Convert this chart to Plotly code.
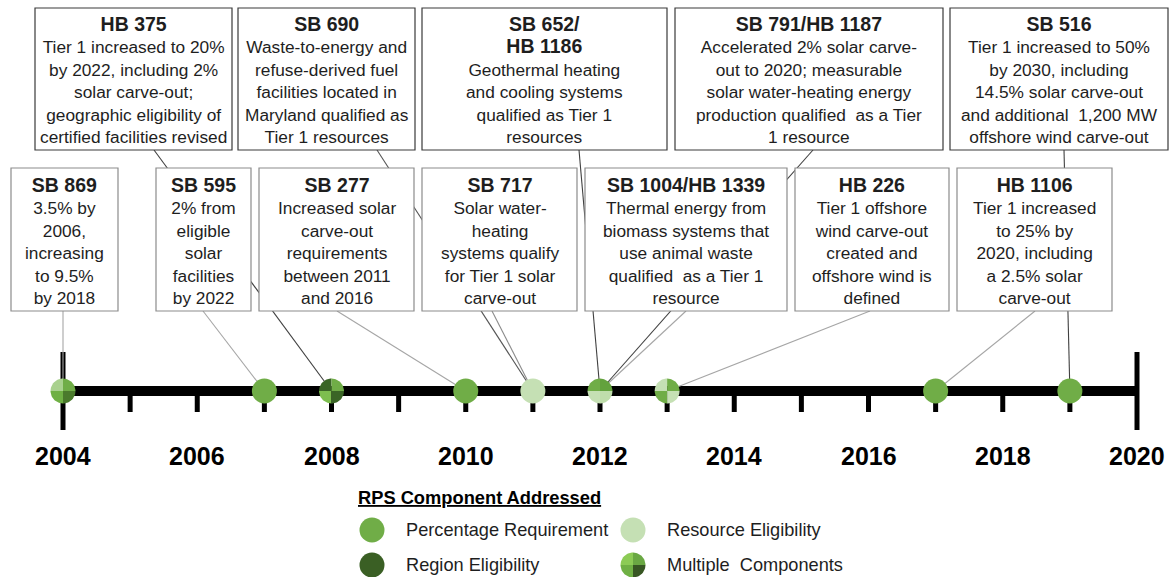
import numpy as np
import plotly.graph_objects as go

# ---------------- data ----------------
tick_years = list(range(2004, 2021))
label_years = list(range(2004, 2021, 2))
tick_labels = [str(y) for y in label_years]

event_years = [2004, 2007, 2008, 2010, 2011, 2012, 2013, 2017, 2019]
event_kinds = ["multi", "percent", "multi", "percent", "resource", "multi", "multi", "percent", "percent"]

bill_names = ["SB 869", "SB 595", "HB 375", "SB 277", "SB 690", "SB 717",
              "SB 652/HB 1186", "SB 1004/HB 1339", "SB 791/HB 1187", "HB 226", "HB 1106", "SB 516"]
bill_years = [2004, 2007, 2008, 2010, 2011, 2011, 2012, 2012, 2012, 2013, 2017, 2019]
bill_titles = ["SB 869", "SB 595", "HB 375", "SB 277", "SB 690", "SB 717",
               "SB 652/<br>HB 1186", "SB 1004/HB 1339", "SB 791/HB 1187", "HB 226", "HB 1106", "SB 516"]
bill_texts = [
    "3.5% by<br>2006,<br>increasing<br>to 9.5%<br>by 2018",
    "2% from<br>eligible<br>solar<br>facilities<br>by 2022",
    "Tier 1 increased to 20%<br>by 2022, including 2%<br>solar carve-out;<br>geographic eligibility of<br>certified facilities revised",
    "Increased solar<br>carve-out<br>requirements<br>between 2011<br>and 2016",
    "Waste-to-energy and<br>refuse-derived fuel<br>facilities located in<br>Maryland qualified as<br>Tier 1 resources",
    "Solar water-<br>heating<br>systems qualify<br>for Tier 1 solar<br>carve-out",
    "Geothermal heating<br>and cooling systems<br>qualified as Tier 1<br>resources",
    "Thermal energy from<br>biomass systems that<br>use animal waste<br>qualified  as a Tier 1<br>resource",
    "Accelerated 2% solar carve-<br>out to 2020; measurable<br>solar water-heating energy<br>production qualified  as a Tier<br>1 resource",
    "Tier 1 offshore<br>wind carve-out<br>created and<br>offshore wind is<br>defined",
    "Tier 1 increased<br>to 25% by<br>2020, including<br>a 2.5% solar<br>carve-out",
    "Tier 1 increased to 50%<br>by 2030, including<br>14.5% solar carve-out<br>and additional  1,200 MW<br>offshore wind carve-out",
]

legend_title = "RPS Component Addressed"
legend_labels = ["Percentage Requirement", "Resource Eligibility", "Region Eligibility", "Multiple  Components"]
legend_kinds = ["percent", "resource", "region", "multi"]

# ---------------- layout / style ----------------
W, H = 1175, 577
PX_START, PX_END = 63, 1137          # pixel x of first / last timeline year
PPY = (PX_END - PX_START) / (tick_years[-1] - tick_years[0])   # px per year
X_RANGE = [tick_years[0] - PX_START / PPY, tick_years[0] + (W - PX_START) / PPY]


def X(px):
    return tick_years[0] + (px - PX_START) / PPY


AXIS_Y = 391
MARK_R = 12.5
FONT = "Arial, Liberation Sans, sans-serif"
TXT = "#1e1e1e"

COLORS = {"percent": "#70AD47", "resource": "#C5E0B4", "region": "#3A5F24"}
# quadrant colors TL, TR, BL, BR
QUADS = {
    2004: ("#A9D18E", "#70AD47", "#6FB044", "#4A7A2C"),
    2008: ("#3A6526", "#70AD47", "#7DBE4F", "#3A6526"),
    2012: ("#70AD47", "#63A23D", "#C5E0B4", "#BFDDAB"),
    2013: ("#C5E0B4", "#70AD47", "#70AD47", "#C5E0B4"),
    "legend": ("#8CCB55", "#6AA843", "#6FB044", "#375623"),
}

BOX = {
    "HB 375": (35, 8, 232, 150),
    "SB 690": (238, 8, 415, 150),
    "SB 652/HB 1186": (422, 8, 667, 150),
    "SB 791/HB 1187": (675, 8, 943, 150),
    "SB 516": (950, 8, 1168, 150),
    "SB 869": (11, 168, 118, 311),
    "SB 595": (156, 168, 251, 311),
    "SB 277": (259, 168, 414, 311),
    "SB 717": (422, 168, 577, 311),
    "SB 1004/HB 1339": (585, 168, 787, 311),
    "HB 226": (795, 168, 949, 311),
    "HB 1106": (957, 168, 1112, 311),
}
LEADER = {
    "SB 869": (63, 311, "#A6A6A6"),
    "SB 595": (203, 311, "#A6A6A6"),
    "HB 375": (154, 150, "#404040"),
    "SB 277": (337, 311, "#A6A6A6"),
    "SB 690": (377, 150, "#555555"),
    "SB 717": (492, 311, "#8C8C8C"),
    "SB 652/HB 1186": (579, 150, "#404040"),
    "SB 1004/HB 1339": (686, 311, "#A6A6A6"),
    "SB 791/HB 1187": (813, 150, "#404040"),
    "HB 226": (870, 311, "#A6A6A6"),
    "HB 1106": (1035, 311, "#A6A6A6"),
    "SB 516": (1064, 150, "#404040"),
}

fig = go.Figure()


def add_pie(cx, cy, quads):
    # cx in data x, cy in pixel-y; quads TL, TR, BL, BR
    spans = {"TR": (0, 90), "TL": (90, 180), "BL": (180, 270), "BR": (270, 360)}
    for key, col in zip(["TL", "TR", "BL", "BR"], quads):
        a0, a1 = spans[key]
        t = np.radians(np.linspace(a0, a1, 20))
        xs = [cx] + list(cx + MARK_R * np.cos(t) / PPY) + [cx]
        ys = [cy] + list(cy - MARK_R * np.sin(t)) + [cy]
        fig.add_trace(go.Scatter(x=xs, y=ys, mode="lines", fill="toself", fillcolor=col,
                                 line=dict(width=0, color=col), hoverinfo="skip", showlegend=False))


# leader lines
for name, yr in zip(bill_names, bill_years):
    sx, sy, col = LEADER[name]
    fig.add_trace(go.Scatter(x=[X(sx), yr], y=[sy, AXIS_Y], mode="lines",
                             line=dict(color=col, width=1.1), hoverinfo="skip", showlegend=False))

# single-color event markers
for kind in ["percent", "resource"]:
    xs = [y for y, k in zip(event_years, event_kinds) if k == kind]
    fig.add_trace(go.Scatter(x=xs, y=[AXIS_Y] * len(xs), mode="markers",
                             marker=dict(size=2 * MARK_R, color=COLORS[kind], line=dict(width=0)),
                             hoverinfo="skip", showlegend=False))
# multi-component markers
for y, k in zip(event_years, event_kinds):
    if k == "multi":
        add_pie(y, AXIS_Y, QUADS[y])

shapes = []
# timeline
shapes.append(dict(type="line", xref="x", yref="y", x0=tick_years[0], x1=tick_years[-1],
                   y0=AXIS_Y, y1=AXIS_Y, line=dict(color="black", width=10), layer="below"))
for yv in tick_years:
    if yv in (tick_years[0], tick_years[-1]):
        shapes.append(dict(type="line", xref="x", yref="y", x0=yv, x1=yv, y0=352, y1=430,
                           line=dict(color="black", width=5), layer="below"))
    else:
        shapes.append(dict(type="line", xref="x", yref="y", x0=yv, x1=yv, y0=AXIS_Y, y1=412,
                           line=dict(color="black", width=5), layer="below"))

annotations = []
for yv, lab in zip(label_years, tick_labels):
    annotations.append(dict(x=yv, y=456, xref="x", yref="y", text="<b>%s</b>" % lab, showarrow=False,
                            xanchor="center", yanchor="middle", font=dict(family=FONT, size=25, color="black")))

# boxes + text
for name, title, body in zip(bill_names, bill_titles, bill_texts):
    x0, y0, x1, y1 = BOX[name]
    top = y0 < 100
    shapes.append(dict(type="rect", xref="x", yref="y", x0=X(x0), x1=X(x1), y0=y0, y1=y1,
                       fillcolor="white", line=dict(color="#3A3A3A" if top else "#8C8C8C", width=1.2),
                       layer="above"))
    t = "<span style='font-size:19.5px'><b>%s</b></span><br>%s" % (title, body)
    annotations.append(dict(x=X((x0 + x1) / 2), y=(y0 + y1) / 2 + 1, xref="x", yref="y", text=t,
                            showarrow=False, xanchor="center", yanchor="middle", align="center",
                            font=dict(family=FONT, size=17.3, color=TXT)))

# legend
annotations.append(dict(x=X(356), y=497, xref="x", yref="y", text="<b><u>%s</u></b>" % legend_title,
                        showarrow=False, xanchor="left", yanchor="middle",
                        font=dict(family=FONT, size=18.3, color="black")))
LEG_POS = [(372, 530), (633, 530), (372, 565), (633, 565)]
for (lx, ly), lab, kind in zip(LEG_POS, legend_labels, legend_kinds):
    if kind == "multi":
        add_pie(X(lx), ly, QUADS["legend"])
    else:
        shapes.append(dict(type="circle", xref="x", yref="y", x0=X(lx - MARK_R), x1=X(lx + MARK_R),
                           y0=ly - MARK_R, y1=ly + MARK_R, fillcolor=COLORS[kind],
                           line=dict(width=0), layer="above"))
    annotations.append(dict(x=X(lx + 32), y=ly, xref="x", yref="y", text=lab, showarrow=False,
                            xanchor="left", yanchor="middle", font=dict(family=FONT, size=18.2, color=TXT)))

fig.update_layout(
    width=W, height=H, margin=dict(l=0, r=0, t=0, b=0, pad=0),
    paper_bgcolor="white", plot_bgcolor="white",
    xaxis=dict(range=X_RANGE, visible=False, fixedrange=True),
    yaxis=dict(range=[H, 0], visible=False, fixedrange=True),
    shapes=shapes, annotations=annotations, showlegend=False,
)

fig.write_html("out.html", post_script="document.body.style.margin='0';", config={"displayModeBar": False})
